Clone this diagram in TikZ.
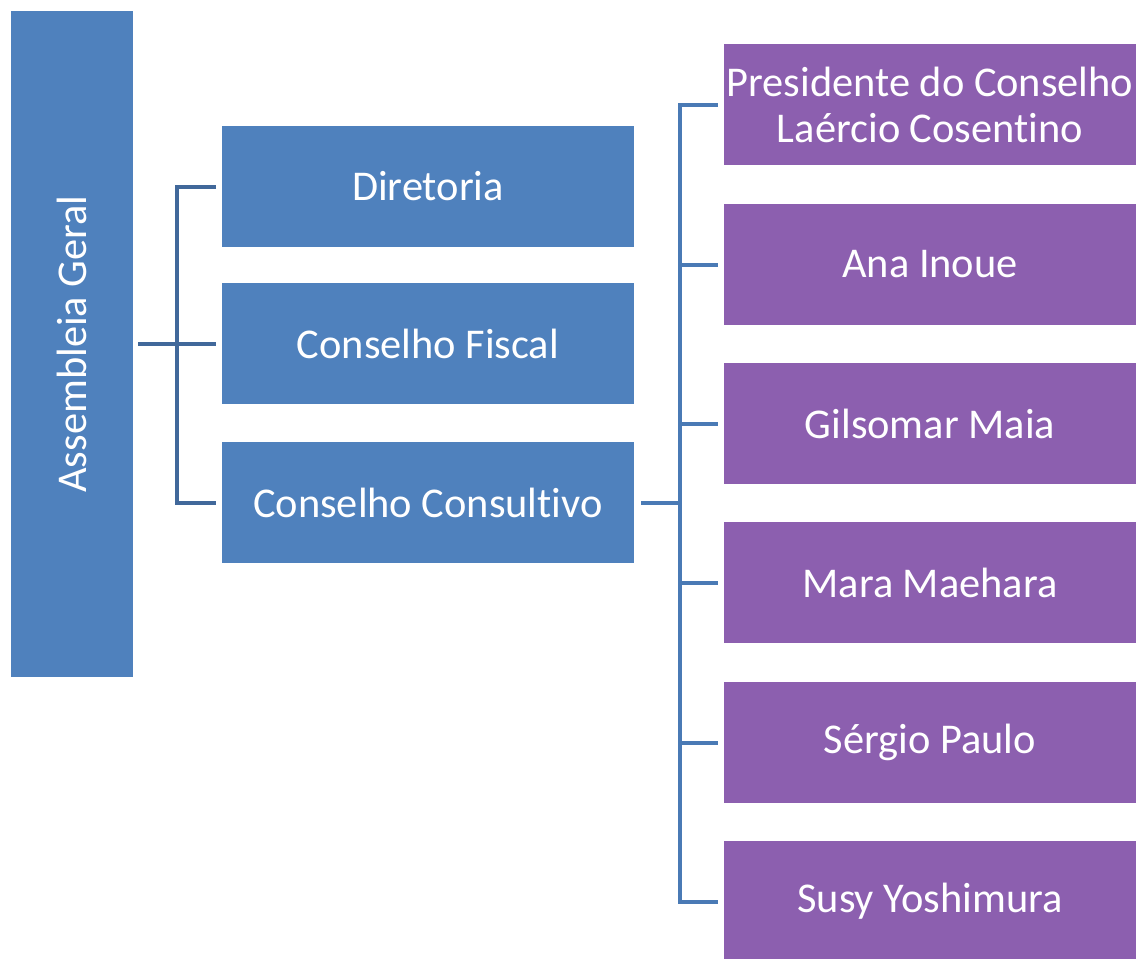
\documentclass[tikz,border=0pt]{standalone}
\usepackage{fontspec}
\setmainfont[Ligatures=NoCommon]{Carlito}
\usepackage{graphicx}

\definecolor{boxblue}{HTML}{4F81BD}
\definecolor{boxpurple}{HTML}{8C5FAF}
\definecolor{linkdark}{HTML}{41689A}
\definecolor{linklight}{HTML}{4A7AB5}

\tikzset{every picture/.style={line width=0.75pt}}
\tikzset{
  orgbox/.style={anchor=north west,inner sep=0pt,outer sep=0pt,text=white,align=center,
    font=\fontsize{31.8}{34.5}\selectfont},
  bluebox/.style={orgbox,fill=boxblue,minimum width=309pt,minimum height=90.75pt},
  purplebox/.style={orgbox,fill=boxpurple,minimum width=309pt,minimum height=90.75pt},
  darklink/.style={draw=linkdark,line width=3pt},
  lightlink/.style={draw=linklight,line width=3pt}
}

\begin{document}
\begin{tikzpicture}[x=0.75pt,y=0.75pt,yscale=-1,xscale=1]
	%set diagram size
	\useasboundingbox (0,0) rectangle (1140,958);
	
	%Shape: Rectangle [id:ag]
	\node [orgbox,fill=boxblue,minimum width=91.5pt,minimum height=499.5pt] (ag) at (11,11) {\rotatebox{90}{Assembleia Geral}};
	
	%Shape: Rectangle [id:dir]
	\node [bluebox] (dir) at (222,126) {Diretoria};
	%Shape: Rectangle [id:fis]
	\node [bluebox] (fis) at (222,283) {Conselho Fiscal};
	%Shape: Rectangle [id:con]
	\node [bluebox] (con) at (222,442) {Conselho Consultivo};
	
	%Shape: Rectangle [id:p1..p6]
	\node [purplebox] (p1) at (724,44) {Presidente do Conselho\\Laércio Cosentino};
	\node [purplebox] (p2) at (724,204) {Ana Inoue};
	\node [purplebox] (p3) at (724,363) {Gilsomar Maia};
	\node [purplebox] (p4) at (724,522) {Mara Maehara};
	\node [purplebox] (p5) at (724,682) {Sérgio Paulo};
	\node [purplebox] (p6) at (724,841) {Susy Yoshimura};
	
	%Connector: left bracket
	\coordinate (tl) at (177,343.5);
	\draw [darklink] ([xshift=3.75pt]ag.east |- tl) -- ([xshift=-4.5pt]fis.west |- tl);
	\draw [darklink] ([xshift=-4.5pt]dir.west) -| (tl) |- ([xshift=-4.5pt]con.west);
	
	%Connector: right bracket
	\coordinate (tr) at (680,502.5);
	\draw [lightlink] ([xshift=5.25pt]con.east) -- (tr);
	\foreach \n in {p1,p2,p3,p4,p5,p6}
		\draw [lightlink] (tr) |- ([xshift=-4.5pt]\n.west);
	
\end{tikzpicture}
\end{document}
